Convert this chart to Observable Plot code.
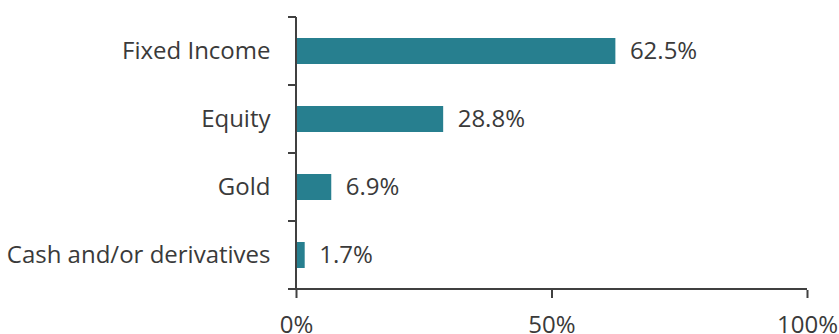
<!DOCTYPE html>
<html><head><meta charset="utf-8">
<script src="https://cdn.jsdelivr.net/npm/d3@7"></script>
<script src="https://cdn.jsdelivr.net/npm/@observablehq/plot@0.6"></script>
<style>
body{margin:0;background:#fff;}
svg{font-family:"Open Sans",sans-serif;}
</style></head>
<body><div id="chart"></div>
<script>
const categories = ["Fixed Income", "Equity", "Gold", "Cash and/or derivatives"];
const values = [0.625, 0.288, 0.069, 0.017];
const labels = ["62.5%", "28.8%", "6.9%", "1.7%"];
const xTicks = [0, 0.5, 1];
const data = categories.map((c, i) => ({category: c, value: values[i], label: labels[i]}));

const axisColor = "#404040";
const textColor = "#3a3a3a";
const plot = Plot.plot({
  width: 839, height: 334,
  marginLeft: 296, marginRight: 32, marginTop: 16, marginBottom: 44,
  style: {fontSize: "24px", color: textColor, background: "#fff", fontFamily: "'Open Sans', sans-serif", overflow: "visible"},
  x: {domain: [0, 1], label: null},
  y: {domain: categories, paddingInner: 0.62, paddingOuter: 0.31, label: null},
  marks: [
    Plot.barX(data, {y: "category", x: "value", fill: "#277f8f"}),
    Plot.text(data, {y: "category", x: "value", text: "label", textAnchor: "start", dx: 14, fill: textColor, fontSize: 24}),
    Plot.axisY({tickSize: 0, tickPadding: 26, fontSize: 24, fill: textColor}),
    Plot.axisX({ticks: xTicks, tickFormat: d3.format(".0%"), tickSize: 8, tickPadding: 17, fontSize: 24, fill: textColor, stroke: axisColor, strokeWidth: 2})
  ]
});
document.getElementById("chart").appendChild(plot);

// axis lines and band-boundary ticks, positioned via the plot's scales
const ys = plot.scale("y"), xs = plot.scale("x");
const svg = d3.select(plot);
const x0 = xs.apply(0), x1 = xs.apply(1);
const step = ys.step;
const firstStart = ys.apply(categories[0]) - (step - ys.bandwidth) / 2;
const bounds = d3.range(categories.length + 1).map(i => firstStart + i * step);
const yTop = bounds[0], yBottom = bounds[bounds.length - 1];
const g = svg.append("g").attr("stroke", axisColor).attr("stroke-width", 2);
g.append("line").attr("x1", x0).attr("x2", x0).attr("y1", yTop).attr("y2", yBottom);
g.append("line").attr("x1", x0).attr("x2", x1).attr("y1", yBottom).attr("y2", yBottom);
g.selectAll(".ybound").data(bounds).join("line")
  .attr("x1", x0 - 8).attr("x2", x0).attr("y1", d => d).attr("y2", d => d);
</script>
</body></html>
